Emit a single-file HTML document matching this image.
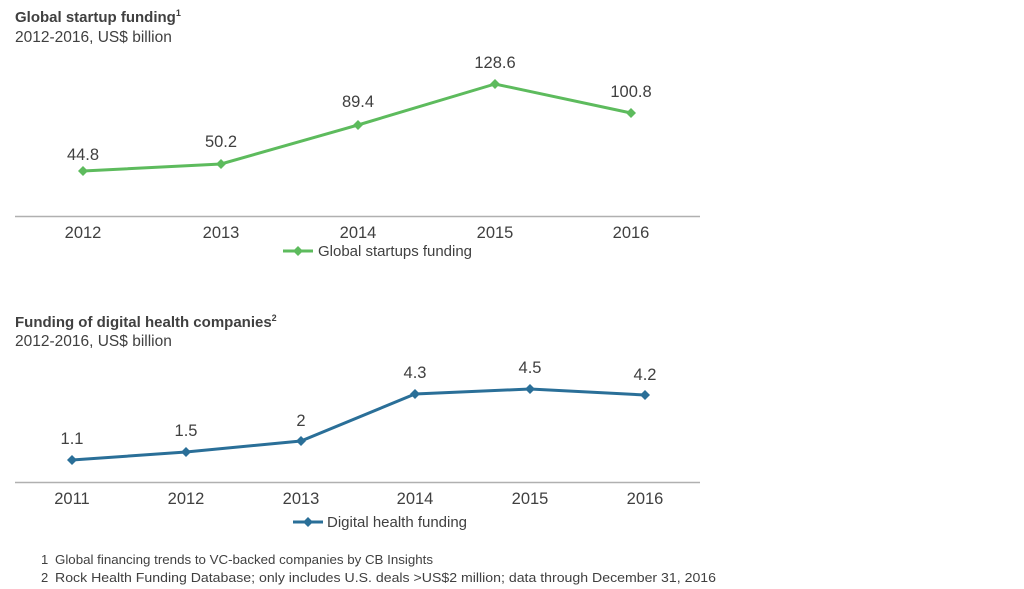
<!DOCTYPE html>
<html><head><meta charset="utf-8"><style>
html,body{margin:0;padding:0;background:#fff;width:1024px;height:589px;overflow:hidden}
svg text{font-family:"Liberation Sans",Arial,sans-serif;fill:#404040}
</style></head><body>
<svg width="1024" height="589" viewBox="0 0 1024 589" xmlns="http://www.w3.org/2000/svg">
<text x="15" y="22" font-size="15" font-weight="bold">Global startup funding<tspan font-size="9" dy="-6">1</tspan></text>
<text x="15" y="42" font-size="15.5">2012-2016, US$ billion</text>
<line x1="15" y1="216.5" x2="700" y2="216.5" stroke="#b0b0b0" stroke-width="1.5"/>
<g font-size="16.5" text-anchor="middle">
<text x="83" y="238">2012</text><text x="221" y="238">2013</text><text x="358" y="238">2014</text><text x="495" y="238">2015</text><text x="631" y="238">2016</text>
<text x="83" y="160">44.8</text><text x="221" y="147">50.2</text><text x="358" y="107">89.4</text><text x="495" y="68">128.6</text><text x="631" y="97">100.8</text>
</g>
<g fill="#5dbb5d" stroke="#5dbb5d">
<polyline points="83,171 221,164 358,125 495,84 631,113" fill="none" stroke-width="3"/>
<g stroke="none">
<path d="M83,166l5,5l-5,5l-5,-5z"/><path d="M221,159l5,5l-5,5l-5,-5z"/><path d="M358,120l5,5l-5,5l-5,-5z"/><path d="M495,79l5,5l-5,5l-5,-5z"/><path d="M631,108l5,5l-5,5l-5,-5z"/>
<path d="M298,246l5,5l-5,5l-5,-5z"/></g>
<line x1="283" y1="251" x2="313" y2="251" stroke-width="3"/>
</g>
<text x="318" y="256" font-size="15" textLength="154">Global startups funding</text>

<text x="15" y="327" font-size="15" font-weight="bold">Funding of digital health companies<tspan font-size="9" dy="-6">2</tspan></text>
<text x="15" y="346" font-size="15.5">2012-2016, US$ billion</text>
<line x1="15" y1="482.5" x2="700" y2="482.5" stroke="#b0b0b0" stroke-width="1.5"/>
<g font-size="16.5" text-anchor="middle">
<text x="72" y="504">2011</text><text x="186" y="504">2012</text><text x="301" y="504">2013</text><text x="415" y="504">2014</text><text x="530" y="504">2015</text><text x="645" y="504">2016</text>
<text x="72" y="444">1.1</text><text x="186" y="436">1.5</text><text x="301" y="426">2</text><text x="415" y="378">4.3</text><text x="530" y="373">4.5</text><text x="645" y="380">4.2</text>
</g>
<g fill="#2a6f98" stroke="#2a6f98">
<polyline points="72,460 186,452 301,441 415,394 530,389 645,395" fill="none" stroke-width="3"/>
<g stroke="none">
<path d="M72,455l5,5l-5,5l-5,-5z"/><path d="M186,447l5,5l-5,5l-5,-5z"/><path d="M301,436l5,5l-5,5l-5,-5z"/><path d="M415,389l5,5l-5,5l-5,-5z"/><path d="M530,384l5,5l-5,5l-5,-5z"/><path d="M645,390l5,5l-5,5l-5,-5z"/>
<path d="M308,517l5,5l-5,5l-5,-5z"/></g>
<line x1="293" y1="522" x2="323" y2="522" stroke-width="3"/>
</g>
<text x="327" y="527" font-size="15" textLength="140">Digital health funding</text>

<g font-size="13">
<text x="41" y="564">1</text><text x="55" y="564" textLength="378" lengthAdjust="spacingAndGlyphs">Global financing trends to VC-backed companies by CB Insights</text>
<text x="41" y="582">2</text><text x="55" y="582" textLength="661" lengthAdjust="spacingAndGlyphs">Rock Health Funding Database; only includes U.S. deals &gt;US$2 million; data through December 31, 2016</text>
<text x="15" y="600">Source:</text><text x="79" y="600">Parent Group (2017)</text>
</g>
</svg>
</body></html>
